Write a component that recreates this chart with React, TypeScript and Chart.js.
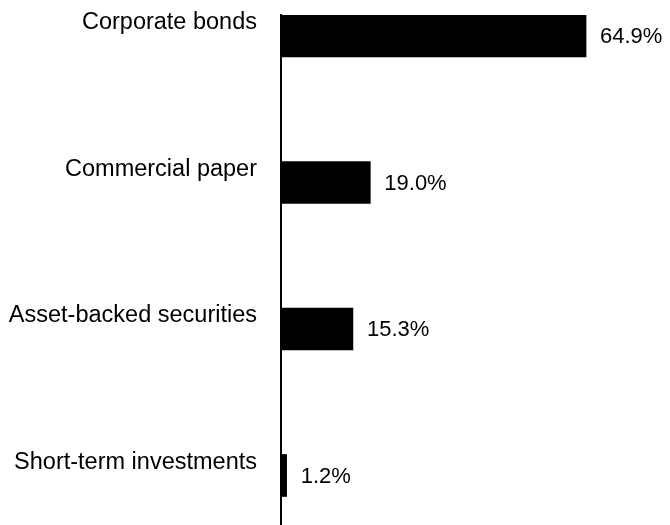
import React, { useEffect, useRef } from "react";
import { Chart, registerables } from "chart.js";

Chart.register(...registerables);

const categories: string[] = [
  "Corporate bonds",
  "Commercial paper",
  "Asset-backed securities",
  "Short-term investments",
];
const values: number[] = [64.9, 19.0, 15.3, 1.2];

const FONT = "Arial, 'Liberation Sans', Helvetica, sans-serif";

const valueLabels = {
  id: "valueLabels",
  afterDatasetsDraw(chart: any) {
    const ctx = chart.ctx;
    const meta = chart.getDatasetMeta(0);
    ctx.save();
    ctx.fillStyle = "#000";
    ctx.font = `22px ${FONT}`;
    ctx.textAlign = "left";
    ctx.textBaseline = "middle";
    meta.data.forEach((bar: any, i: number) => {
      ctx.fillText(`${values[i].toFixed(1)}%`, bar.x + 14, bar.y + 1);
    });
    ctx.restore();
  },
};

export default function App() {
  const ref = useRef<HTMLCanvasElement | null>(null);
  useEffect(() => {
    if (!ref.current) return;
    const chart = new Chart(ref.current, {
      type: "bar",
      data: {
        datasets: [
          {
            data: values.map((v, i) => ({ x: v, y: i })),
            backgroundColor: "#000",
            borderWidth: 0,
            barThickness: 42,
          },
        ],
      },
      options: {
        indexAxis: "y",
        animation: false,
        responsive: false,
        layout: { padding: { top: 15, right: 13, bottom: 0, left: 0 } },
        plugins: { legend: { display: false }, tooltip: { enabled: false } },
        scales: {
          x: {
            type: "linear",
            min: 0,
            max: 80,
            display: false,
          },
          y: {
            type: "linear",
            reverse: true,
            offset: false,
            min: -0.1433,
            max: 3.338,
            grid: { display: false, drawTicks: false },
            border: { display: true, color: "#000", width: 2 },
            afterBuildTicks: (axis: any) => {
              axis.ticks = categories.map((_, i) => ({ value: i }));
            },
            afterFit: (axis: any) => {
              axis.width = 281;
              axis.paddingTop = 0;
              axis.paddingBottom = 0;
            },
            ticks: {
              callback: (v: any) => categories[Number(v)] ?? "",
              color: "#000",
              font: { family: FONT, size: 23.5 },
              padding: 24,
              labelOffset: -13,
              autoSkip: false,
            },
          },
        },
      },
      plugins: [valueLabels],
    });
    return () => chart.destroy();
  }, []);
  return (
    <div style={{ position: "absolute", left: 0, top: 0, width: 670, height: 525, background: "#fff" }}>
      <canvas ref={ref} width={670} height={525} style={{ display: "block" }} />
    </div>
  );
}
